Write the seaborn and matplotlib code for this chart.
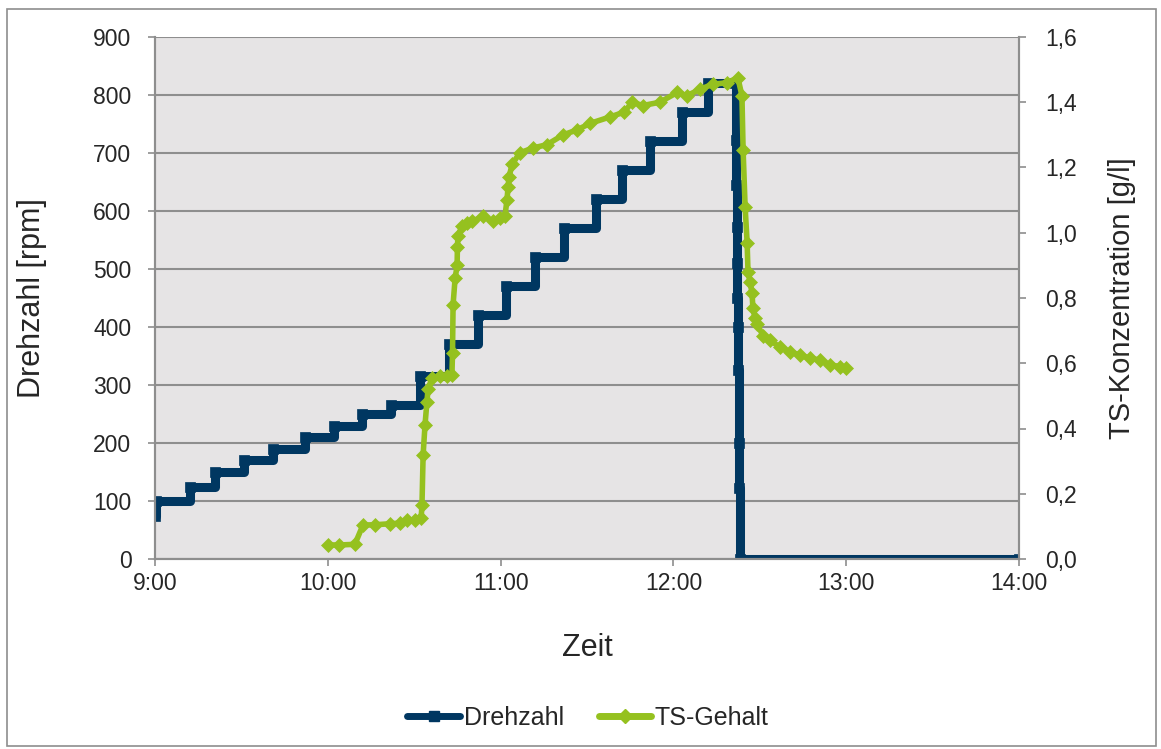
import matplotlib
matplotlib.use("Agg")
import matplotlib.pyplot as plt
from matplotlib.lines import Line2D
from matplotlib.patches import Rectangle
from matplotlib.ticker import FuncFormatter
import pandas as pd
import seaborn as sns

# Zeit in Minuten nach 9:00
# Drehzahl [rpm] als Stufen (Wert gilt ab dem jeweiligen Zeitpunkt)
drehzahl_min = [0, 0.5, 12, 21, 31, 41, 52, 62, 72, 82, 92, 102, 112, 122, 132,
                142, 153, 162, 172, 183, 192,
                201.5, 201.7, 201.9, 202.0, 202.1, 202.2, 202.3, 202.5, 202.7,
                202.8, 203.0, 300]
drehzahl_rpm = [75, 100, 125, 150, 170, 190, 210, 230, 250, 265, 315, 370, 420,
                470, 520, 570, 620, 670, 720, 770, 820,
                820, 722, 645, 572, 510, 450, 400, 326, 200, 122, 0, 0]

# TS-Gehalt [g/l]
ts_min = [60, 64, 69.4, 72.2, 76.4, 81.6, 85.1, 87.5, 90.3, 92.4, 92.7, 93.1,
          93.75, 94.4, 94.8, 96.2, 99, 101.4, 103.1, 103.3, 103.5, 104.2, 104.9,
          105.0, 105.2, 106.6, 108.3, 110, 113.9, 117.4, 119.8, 121.5, 122.2,
          122.6, 122.9, 124, 126.7, 131.3, 136.1, 141.7, 146.5, 151, 158, 163,
          165.6, 169.4, 175.3, 181.3, 184.7, 189.2, 193.75, 198.6, 202.4, 203.8,
          204.2, 204.9, 205.6, 205.9, 206.6, 207.3, 207.6, 208.3, 209, 211.1,
          213.5, 217, 220.5, 224, 227.4, 230.9, 234.4, 237.8, 240]
ts_gl = [0.043, 0.043, 0.045, 0.104, 0.105, 0.108, 0.11, 0.12, 0.12, 0.125,
         0.165, 0.32, 0.41, 0.48, 0.52, 0.555, 0.56, 0.56, 0.565, 0.63, 0.78,
         0.86, 0.90, 0.955, 0.99, 1.02, 1.03, 1.035, 1.05, 1.035, 1.045, 1.05,
         1.10, 1.14, 1.17, 1.21, 1.245, 1.26, 1.27, 1.30, 1.315, 1.335, 1.355,
         1.37, 1.40, 1.39, 1.40, 1.43, 1.42, 1.44, 1.455, 1.46, 1.475, 1.42,
         1.255, 1.08, 0.97, 0.88, 0.85, 0.815, 0.77, 0.74, 0.72, 0.685, 0.67,
         0.65, 0.635, 0.625, 0.615, 0.61, 0.595, 0.59, 0.585]

x_ticks = [0, 60, 120, 180, 240, 300]
x_ticklabels = ["9:00", "10:00", "11:00", "12:00", "13:00", "14:00"]

blau = "#003761"
gruen = "#95C11F"
grau = "#8E8E8E"

sns.set_style("white")
plt.rcParams['font.family'] = ['Liberation Sans', 'DejaVu Sans']

df_dz = pd.DataFrame({"zeit": drehzahl_min, "drehzahl": drehzahl_rpm})
df_ts = pd.DataFrame({"zeit": ts_min, "ts": ts_gl})

fig = plt.figure(figsize=(11.61, 7.49), dpi=100)
ax = fig.add_axes([155 / 1161, 1 - 559 / 749, 864 / 1161, 522 / 749])
ax.set_facecolor("#E6E4E5")
ax2 = ax.twinx()

# Drehzahl (linke Achse)
sns.lineplot(data=df_dz, x="zeit", y="drehzahl", ax=ax, estimator=None, sort=False,
             drawstyle="steps-post", color=blau, linewidth=6.5, marker="s",
             markersize=6.5, markeredgecolor=blau, markeredgewidth=0.5)

# TS-Gehalt (rechte Achse)
sns.lineplot(data=df_ts, x="zeit", y="ts", ax=ax2, estimator=None, sort=False,
             color=gruen, linewidth=4, marker="D", markersize=7,
             markeredgecolor=gruen, markeredgewidth=0.5)

ax.set_xlim(0, 300)
ax.set_ylim(0, 900)
ax2.set_ylim(0, 1.6)
ax.set_yticks(range(0, 901, 100))
ax2.set_yticks([i * 0.2 for i in range(9)])
ax2.yaxis.set_major_formatter(FuncFormatter(lambda v, p: f"{v:.1f}".replace(".", ",")))
ax.set_xticks(x_ticks)
ax.set_xticklabels(x_ticklabels)

ax.grid(axis="y", color=grau, linewidth=1.5)
ax.grid(axis="x", visible=False)
ax.set_axisbelow(True)

for a in (ax, ax2):
    for s in a.spines.values():
        s.set_color(grau)
        s.set_linewidth(1.5)
    a.spines["top"].set_visible(False)

ax.tick_params(axis="y", direction="out", length=5, width=1.2, color=grau,
               labelsize=16.5, pad=12, left=True)
ax.tick_params(axis="x", direction="out", length=5, width=1.2, color=grau,
               labelsize=16.5, pad=4, bottom=True)
ax2.tick_params(axis="y", direction="out", length=5, width=1.2, color=grau,
                labelsize=16.5, pad=14, right=True)

ax.set_xlabel("Zeit", fontsize=22)
ax.set_ylabel("Drehzahl [rpm]", fontsize=22)
ax2.set_ylabel("TS-Konzentration [g/l]", fontsize=21)
ax.xaxis.set_label_coords(0.5, -(648 - 559) / 522)
ax.xaxis.label.set_va("center")
ax.yaxis.set_label_coords((32 - 155) / 864, 0.5)
ax.yaxis.label.set_va("center")
ax2.yaxis.set_label_coords((1122 - 155) / 864, 0.5)
ax2.yaxis.label.set_va("center")

handles = [
    Line2D([], [], color=blau, linewidth=5, marker="s", markersize=6.5),
    Line2D([], [], color=gruen, linewidth=5, marker="D", markersize=7),
]
fig.legend(handles, ["Drehzahl", "TS-Gehalt"], loc="center",
           bbox_to_anchor=(588 / 1161, 1 - 718 / 749), ncol=2, frameon=False,
           fontsize=18, handlelength=2.1, handletextpad=0.15, columnspacing=1.4,
           numpoints=1)

# Rahmen um das Diagramm
fig.patches.append(Rectangle((7 / 1161, 1 - 746 / 749), 1149 / 1161, 737 / 749,
                             transform=fig.transFigure, fill=False,
                             edgecolor=grau, linewidth=1.2))

fig.savefig("out.png", dpi=100)
